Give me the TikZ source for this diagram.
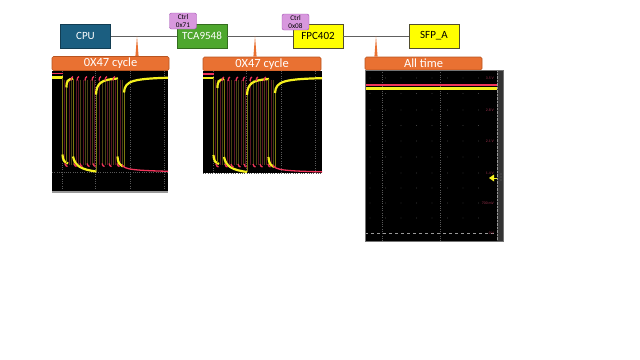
\documentclass[tikz,border=0pt]{standalone}
\usepackage{fontspec}
\setmainfont{Carlito}
\usetikzlibrary{positioning,calc}

\definecolor{cpublue}{HTML}{1B5E80}
\definecolor{muxgreen}{HTML}{4EA72E}
\definecolor{chipyellow}{HTML}{FFFF00}
\definecolor{ctrlpurple}{HTML}{D898DE}
\definecolor{ctrledge}{HTML}{A050B0}
\definecolor{callorange}{HTML}{E97132}
\definecolor{calledge}{HTML}{B85420}
\definecolor{busgray}{HTML}{606060}
\definecolor{sigyellow}{HTML}{F5F01E}
\definecolor{sigred}{HTML}{F0345A}
\definecolor{scopelabel}{HTML}{A03450}
\definecolor{edgeolive}{HTML}{4A4414}
\definecolor{edgewine}{HTML}{5A1626}

\tikzset{
  chipdark/.style={draw=#1!65!black, fill=#1, text=white, minimum width=50pt,
    minimum height=24pt, inner sep=0pt, line width=0.8pt,
    font=\fontsize{11}{12}\selectfont},
  chiplight/.style={draw=black!55!olive, fill=chipyellow, text=black, minimum width=50pt,
    minimum height=24pt, inner sep=0pt, line width=0.8pt,
    font=\fontsize{11}{12}\selectfont},
  ctrltag/.style={draw=ctrledge, fill=ctrlpurple, rounded corners=2pt, minimum width=27pt,
    minimum height=16pt, inner sep=0pt, align=center,
    font=\fontsize{7.2}{8.5}\selectfont},
  callbox/.style={draw=calledge, fill=callorange, text=white, rounded corners=1.5pt,
    minimum width=117pt, minimum height=14pt, inner sep=0pt, line width=0.6pt,
    font=\fontsize{12.5}{13}\selectfont},
  bus/.style={draw=busgray, line width=0.9pt},
  gridline/.style={draw=white!35!black, line width=0.3pt, dotted},
  sigtop/.style={draw=sigyellow, line width=2.2pt},
  sigedge/.style={draw=sigyellow!50!black, line width=0.45pt},
  sigscl/.style={draw=sigred, line width=1.3pt},
  thinedge/.style={draw=#1, line width=0.35pt},
  voltlabel/.style={text=scopelabel, anchor=east, inner sep=0pt,
    font=\fontsize{3.8}{4}\selectfont}
}

% one I2C burst, in the scope's own pixel frame
\newcommand{\burstwave}{%
  \foreach \g in {10,43,78,112} \draw[gridline] (\g,0) -- (\g,118);
  \draw[gridline] (0,102) -- (120,102);
  \foreach \t in {12,17,24,26,31,38,42,47,55,59,63,68}
    \draw[thinedge=edgewine] (\t,9) -- (\t,94);
  \foreach \t in {14.5,19,21,28,33,35,40,50,53,57,61,65,70}
    \draw[thinedge=edgeolive] (\t,9) -- (\t,94);
  \draw[sigscl] (0,3) -- (11,3);
  \draw[sigtop] (0,7) -- (10.5,7);
  \draw[sigedge] (10.5,7) -- (10.5,86);
  \draw[sigtop] (10.5,84) .. controls (11,91) and (13,92) .. (16,93);
  \draw[sigedge] (14.5,17) -- (14.5,92);
  \draw[sigtop] (14.5,17) .. controls (14.5,10) and (16,9) .. (21,8);
  \draw[sigedge] (21,8) -- (21,88);
  \draw[sigtop] (21,86) .. controls (23,96) and (30,99) .. (44,101);
  \draw[sigedge] (44,101) -- (44,22);
  \draw[sigtop] (44,24) .. controls (44.5,12) and (50,9) .. (66,8);
  \draw[sigedge] (65.5,8) -- (65.5,88);
  \draw[sigtop] (65.5,86) .. controls (66,93) and (68,95) .. (71,96);
  \draw[sigedge] (72,96) -- (72,20);
  \draw[sigtop] (72,22) .. controls (73,10) and (80,8) .. (125,7);
  \foreach \t in {19,25,33,40,47,53,61} \draw[sigscl] (\t,10) .. controls (\t+0.5,7) .. (\t+2,6);
  \foreach \t in {13,22,28,35,41,50,57,65} \draw[sigscl] (\t,93) .. controls (\t+1,95.5) .. (\t+2.5,96);
  \draw[sigscl] (70,94) .. controls (72,99) and (80,100) .. (125,101);
}

\begin{document}
\begin{tikzpicture}[x=1pt,y=-1pt] %Bus I2C con capturas del osciloscopio
  \useasboundingbox (0,0) rectangle (640,359);

  \node[chipdark=cpublue] (cpu) at (85.5,36) {CPU};
  \node[chipdark=muxgreen] (tca) at (202,36) {TCA9548};
  \node[chiplight] (fpc) at (318,36) {FPC402};
  \node[chiplight] (sfp) at (434,36) {SFP\_A};

  \draw[bus] (cpu) -- (tca);
  \draw[bus] (tca) -- (fpc);
  \draw[bus] (fpc) -- (sfp);

  \node[ctrltag] (ctrlA) at (183,21) {Ctrl\\0x71};
  \node[ctrltag] (ctrlB) at (295.5,22) {Ctrl\\0x08};

  \node[callbox] (cycA) at (110.5,63.5) {0X47 cycle};
  \node[callbox, minimum width=118pt] (cycB) at (262,64) {0X47 cycle};
  \node[callbox, minimum height=13pt] (allt) at (423.5,63.5) {All time};

  \coordinate (pinA) at (137,36);
  \coordinate (pinB) at (255,36);
  \coordinate (pinC) at (376,36);
  \foreach \p/\c in {pinA/cycA, pinB/cycB, pinC/allt}
    \fill[callorange] (\p) -- ($(\p |- \c.north)+(-1.6,0)$) -- ($(\p |- \c.north)+(1.6,0)$) -- cycle;

  % capturas 0X47
  \fill[black] (52,70.5) rectangle (168,193);
  \begin{scope}[shift={(52,70.5)}]
    \clip (0,0) rectangle (116,122.5);
    \burstwave
    \fill[white!60!black] (0,120.5) rectangle (116,122.5);
  \end{scope}

  \fill[black] (203,71) rectangle (322,173);
  \begin{scope}[shift={(203,71)}]
    \clip (0,0) rectangle (119,102);
    \burstwave
  \end{scope}

  % captura continua
  \fill[black] (365,70) rectangle (503,241);
  \foreach \gx in {370,385.5,401,416.5,432,447.5,463,478.5}
    \foreach \gy in {78,93.5,110,125.5,141,157,173,188,203,218}
      \fill[white!40!black] (\gx,\gy) circle (0.35pt);
  \draw[gridline] (382,70) -- (382,241);
  \draw[gridline] (440,70) -- (440,241);
  \draw[white!60!black, line width=0.5pt, dashed] (365,233) -- (497,233);
  \draw[sigscl, line width=1.8pt] (365,85) -- (497,85);
  \draw[sigtop] (365,88.5) -- (497,88.5);
  \fill[white!20!black] (497,70) rectangle (503,241);
  \draw[white!60!black, line width=0.4pt, densely dotted] (497.3,70) -- (497.3,241);
  \foreach \my in {174,177,180} \fill[white!80!black] (501,\my) circle (0.45pt);
  \fill[sigyellow] (489,178) -- (494,174.5) -- (494,181.5) -- cycle;
  \draw[sigyellow, line width=1pt] (494,178) -- (497,178);
  \draw[white!45!black, line width=0.4pt] (365,70) rectangle (503,241);

  \node[voltlabel] (v35) at (494,78) {3.5 V};
  \node[voltlabel] (v28) at (494,110) {2.8 V};
  \node[voltlabel] (v21) at (494,141) {2.1 V};
  \node[voltlabel] (v14) at (494,173) {1.4 V};
  \node[voltlabel] (v07) at (494,203) {700 mV};
  \node[voltlabel] (v00) at (494,233) {0 V};
\end{tikzpicture}
\end{document}
